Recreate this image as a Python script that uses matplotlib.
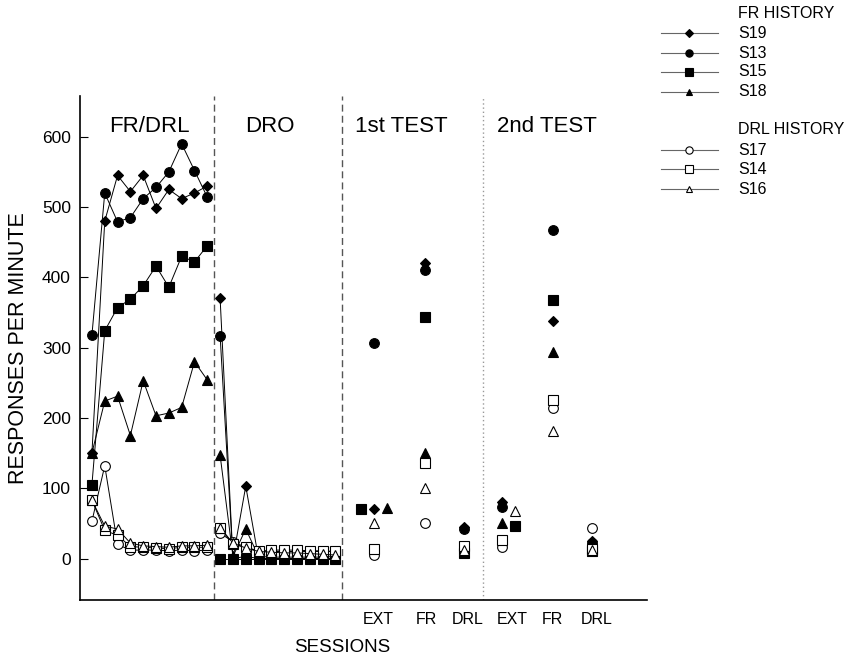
import matplotlib
matplotlib.use("Agg")
import matplotlib.pyplot as plt
from matplotlib.lines import Line2D
import numpy as np

plt.rcParams['font.family'] = ['Liberation Sans', 'DejaVu Sans']

subjects = ['S19', 'S13', 'S15', 'S18', 'S17', 'S14', 'S16']
markers = ['D', 'o', 's', '^', 'o', 's', '^']
filled = [True, True, True, True, False, False, False]
msizes = [5, 7, 7, 6.5, 7, 7, 6.5]

# sessions 1-10 (FR/DRL), 11-20 (DRO)
frdrl_sessions = np.arange(1, 11)
dro_sessions = np.arange(11, 21)

frdrl = {
    'S19': [150, 480, 545, 522, 545, 498, 525, 512, 520, 530],
    'S13': [318, 520, 479, 485, 512, 528, 550, 590, 552, 514],
    'S15': [105, 324, 357, 369, 388, 416, 386, 430, 422, 445],
    'S18': [150, 224, 231, 175, 253, 203, 207, 215, 280, 254],
    'S17': [53, 132, 20, 12, 12, 12, 11, 12, 11, 12],
    'S14': [83, 40, 33, 17, 16, 15, 14, 16, 16, 16],
    'S16': [83, 46, 42, 22, 18, 17, 16, 18, 18, 19],
}

dro = {
    'S19': [370, 0, 103, 0, 0, 0, 0, 0, 0, 0],
    'S13': [317, 0, 3, 0, 0, 0, 0, 0, 0, 0],
    'S15': [0, 0, 0, 0, 0, 0, 0, 0, 0, 0],
    'S18': [147, 3, 42, 3, 2, 2, 2, 2, 2, 3],
    'S17': [36, 24, 16, 11, 10, 10, 10, 10, 10, 10],
    'S14': [44, 20, 16, 10, 12, 12, 12, 11, 11, 10],
    'S16': [44, 22, 15, 10, 9, 8, 8, 7, 6, 5],
}

# test conditions: EXT, FR, DRL (1st test), EXT, FR, DRL (2nd test)
test_labels = ['EXT', 'FR', 'DRL', 'EXT', 'FR', 'DRL']
test_pos = [23, 27, 30, 33, 37, 40]
test_label_pos = [23.3, 27.1, 30.3, 33.8, 36.9, 40.4]
tests = {
    'S19': [71, 421, 45, 80, 338, 25],
    'S13': [307, 410, 42, 73, 467, 22],
    'S15': [70, 343, 8, 46, 368, 10],
    'S18': [72, 150, 10, 51, 294, 17],
    'S17': [5, 51, 15, 16, 214, 43],
    'S14': [13, 136, 18, 27, 226, 14],
    'S16': [51, 101, 12, 67, 181, 12],
}
# sideways shift of overlapping points in the EXT columns
ext_shift = {
    'S15': [-1, 0, 0, 1, 0, 0],
    'S18': [1, 0, 0, 0, 0, 0],
    'S16': [0, 0, 0, 1, 0, 0],
}

fig = plt.figure(figsize=(8.47, 6.58), dpi=100)
ax = fig.add_axes([80 / 847, 1 - 600 / 658, 567 / 847, 504 / 658])

for s, m, f, ms in zip(subjects, markers, filled, msizes):
    kw = dict(marker=m, markersize=ms, markeredgecolor='black', markeredgewidth=0.8,
              markerfacecolor='black' if f else 'white', color='black', linewidth=0.7)
    ax.plot(frdrl_sessions, frdrl[s], **kw)
    ax.plot(dro_sessions, dro[s], **kw)
    xs = np.array(test_pos) + np.array(ext_shift.get(s, [0] * 6))
    ax.plot(xs, tests[s], linestyle='none', **kw)

ax.axvline(10.5, color='#555555', linestyle=(0, (5, 3)), linewidth=1)
ax.axvline(20.5, color='#555555', linestyle=(0, (5, 3)), linewidth=1)
ax.axvline(31.5, color='#999999', linestyle=(0, (1, 2)), linewidth=1)

ax.set_xlim(0.07, 44.3)
ax.set_ylim(-59, 658)
ax.spines['top'].set_visible(False)
ax.spines['right'].set_visible(False)
ax.spines['left'].set_linewidth(1.2)
ax.spines['bottom'].set_linewidth(1.2)

ax.set_yticks([0, 100, 200, 300, 400, 500, 600])
ax.tick_params(axis='y', direction='in', length=5.5, width=0.8, pad=6.5, labelsize=12.5)
ax.set_xticks(test_label_pos)
ax.set_xticklabels(test_labels)
ax.tick_params(axis='x', length=0, pad=9, labelsize=11.5)

ax.set_ylabel('RESPONSES PER MINUTE', fontsize=15.5, labelpad=9)
ax.text((342 - 80) / 567, -0.095, 'SESSIONS', transform=ax.transAxes,
        ha='center', va='center', fontsize=13.5)

for label, xpos in zip(['FR/DRL', 'DRO', '1st TEST', '2nd TEST'], [5.45, 14.9, 25.1, 36.5]):
    ax.text(xpos, 615, label, ha='center', va='center', fontsize=16)

# legend drawn in figure pixels
leg_rows = [('FR HISTORY', None), ('S19', 0), ('S13', 1), ('S15', 2), ('S18', 3),
            ('DRL HISTORY', None), ('S17', 4), ('S14', 5), ('S16', 6)]
leg_y = [14, 33, 53, 72, 92, 129, 150, 169, 189]
for (txt, idx), ypx in zip(leg_rows, leg_y):
    yf = 1 - ypx / 658
    fig.text(738 / 847, yf, txt, ha='left', va='center', fontsize=11.5)
    if idx is not None:
        fig.add_artist(Line2D([661 / 847, 718 / 847], [yf, yf], color='#666666',
                              linewidth=0.8, transform=fig.transFigure))
        fig.add_artist(Line2D([689 / 847], [yf], marker=markers[idx], markersize=msizes[idx] * 0.75,
                              markeredgecolor='black', markeredgewidth=0.8,
                              markerfacecolor='black' if filled[idx] else 'white',
                              linestyle='none', transform=fig.transFigure))

fig.savefig('out.png', dpi=100)
